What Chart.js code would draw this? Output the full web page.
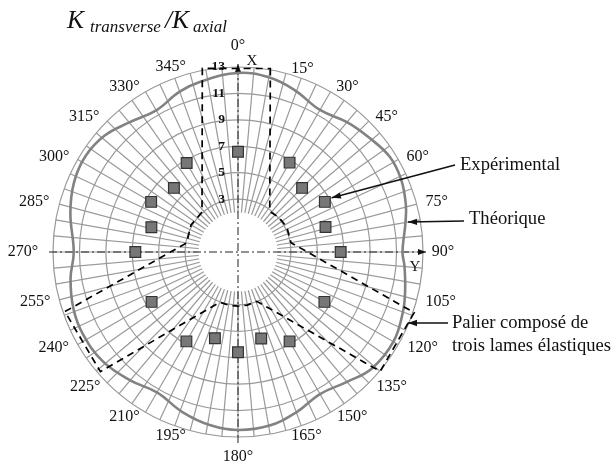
<!DOCTYPE html>
<html>
<head>
<meta charset="utf-8">
<style>html,body{margin:0;padding:0;background:#fff}canvas{display:block}</style>
<script src="https://cdn.jsdelivr.net/npm/chart.js@4/dist/chart.umd.min.js"></script>
</head>
<body>
<canvas id="c" width="615" height="466"></canvas>
<script>
const degreeLabels = [0,15,30,45,60,75,90,105,120,135,150,165,180,195,210,225,240,255,270,285,300,315,330,345];
const labelDx = [0,16.5,17,18,19.5,20,20,24,24.4,23,21.7,20.5,0,-19.5,-21,-22,-24,-24,-30,-25,-23.5,-23,-21,-19.5];
const labelDy = [-21,-5,-5,-4,-3,-2,0,2,3,4,5,5.5,20,5.5,5,4,3,2,0,-2,-3,-4,-5,-6.5];
const ratioTicks = [3,5,7,9,11,13];

const theoryAngles = [0,10,19,30,40,49,58,66,74,80,90,95,103,110,120,131,140,150,160,170,180,189,199,210,220,231,242,251,261,270,283,293,302,311,320,330,340,348];
const theoryValues = [12.55,12.43,12.0,11.41,11.83,12.17,12.56,12.51,12.21,11.87,11.45,11.65,11.98,12.28,12.58,12.43,11.83,11.41,11.91,12.36,12.47,12.28,11.83,11.27,11.68,12.16,12.28,12.17,11.83,11.43,12.02,12.48,12.63,12.40,11.8,11.38,11.91,12.21];

const expAngles = [0,30,45,60,74,90,120,150,165,180,195,210,240,270,286,300,315,330];
const expValues = [6.58,6.81,5.86,6.59,5.89,6.77,6.55,6.81,5.78,6.58,5.75,6.81,6.55,6.77,5.82,6.59,5.86,6.77];

const bearingAngles = [10,38,50,63,80,109,130,159,170,180,190,200,229,251,280,300,318,349];
const bearingValues = [13.1,2.9,3.05,3.15,3.07,13.1,13.05,3.0,3.08,3.1,3.08,3.05,12.8,12.85,2.95,3.1,3.07,13.15];

const holeValue = 2;
const GREY = '#999999';
const SERIF = '"Liberation Serif","Times New Roman",serif';

function sparse(angles, values){
  const a = new Array(360).fill(null);
  angles.forEach((d,i)=>{ a[d] = values[i]; });
  return a;
}
const labels = Array.from({length:360},(_,i)=> degreeLabels.includes(i) ? i+'°' : '');

function arrow(ctx,x1,y1,x2,y2,len,wid){
  const t = Math.atan2(y2-y1,x2-x1);
  ctx.beginPath();ctx.moveTo(x1,y1);ctx.lineTo(x2,y2);ctx.stroke();
  ctx.beginPath();ctx.moveTo(x2,y2);
  ctx.lineTo(x2-len*Math.cos(t)+wid*Math.sin(t),y2-len*Math.sin(t)-wid*Math.cos(t));
  ctx.lineTo(x2-len*Math.cos(t)-wid*Math.sin(t),y2-len*Math.sin(t)+wid*Math.cos(t));
  ctx.closePath();ctx.fill();
}

const overlay = {
  id:'overlay',
  beforeDatasetsDraw(chart){
    const s = chart.scales.r, ctx = chart.ctx;
    const cx = s.xCenter, cy = s.yCenter;
    ctx.save();
    ctx.fillStyle='#fff';
    ctx.beginPath();ctx.arc(cx,cy,s.getDistanceFromCenterForValue(holeValue),0,Math.PI*2);ctx.fill();
    ctx.strokeStyle='#222';ctx.fillStyle='#111';ctx.lineWidth=1;
    ctx.setLineDash([8,3,2,3]);
    const R = s.drawingArea;
    ctx.beginPath();ctx.moveTo(cx,cy-R);ctx.lineTo(cx,cy+R+7);ctx.stroke();
    ctx.beginPath();ctx.moveTo(cx-R-4,cy);ctx.lineTo(cx+R,cy);ctx.stroke();
    ctx.setLineDash([]);
    arrow(ctx,cx,cy-R+4,cx,cy-R-3,8,3);
    arrow(ctx,cx+R-4,cy,cx+R+3,cy,8,3);
    ctx.restore();
  },
  afterDraw(chart){
    const s = chart.scales.r, ctx = chart.ctx;
    const cx = s.xCenter, cy = s.yCenter;
    ctx.save();
    ctx.fillStyle='#111';ctx.strokeStyle='#111';
    // degree labels
    ctx.font='16px '+SERIF;ctx.textAlign='center';ctx.textBaseline='middle';
    degreeLabels.forEach((d,i)=>{
      const p = s.getPointPositionForValue(d,13);
      ctx.fillText(d+'°',p.x+labelDx[i],p.y+labelDy[i]);
    });
    // ring values
    ctx.font='bold 13.5px '+SERIF;ctx.textAlign='right';
    ratioTicks.forEach(v=>{
      ctx.fillText(String(v),cx-13,cy-s.getDistanceFromCenterForValue(v));
    });
    // axis letters
    ctx.font='15px '+SERIF;ctx.textAlign='center';
    ctx.fillText('X',cx+14,61);
    ctx.fillText('Y',cx+177,267);
    // title
    ctx.textAlign='left';ctx.textBaseline='alphabetic';
    ctx.font='italic 25.5px '+SERIF;
    ctx.fillText('K',67,28);
    ctx.fillText('/K',165,28);
    ctx.font='italic 17px '+SERIF;
    ctx.fillText('transverse',90,32);
    ctx.fillText('axial',193,32);
    // callouts
    ctx.font='18.6px '+SERIF;
    ctx.fillText('Expérimental',460,170);
    ctx.fillText('Théorique',469,224);
    ctx.fillText('Palier composé de',452,328);
    ctx.fillText('trois lames élastiques',452,351);
    ctx.lineWidth=1.6;
    const p = s.getPointPositionForValue(60,expValues[3]);
    arrow(ctx,455,165,p.x+7,p.y-4,9,3.2);
    arrow(ctx,464,221,408,222,9,3.2);
    arrow(ctx,448,323,408,323,9,3.2);
    ctx.restore();
  }
};

new Chart(document.getElementById('c'),{
  type:'radar',
  data:{
    labels,
    datasets:[
      {label:'Théorique',data:sparse(theoryAngles,theoryValues),borderColor:'#828282',borderWidth:2.6,tension:0.4,spanGaps:true,pointRadius:0,fill:false,order:3},
      {label:'Palier',data:sparse(bearingAngles,bearingValues),borderColor:'#000',borderWidth:1.7,borderDash:[7,5],tension:0,spanGaps:true,pointRadius:0,fill:false,order:2},
      {label:'Expérimental',data:sparse(expAngles,expValues),showLine:false,pointStyle:'rect',pointRadius:7.6,pointHoverRadius:7.6,pointBackgroundColor:'#777',pointBorderColor:'#333',pointBorderWidth:1.2,order:1}
    ]
  },
  options:{
    responsive:false,
    animation:false,
    events:[],
    layout:{padding:{left:52,right:191,top:67,bottom:28}},
    plugins:{legend:{display:false},tooltip:{enabled:false},title:{display:false}},
    scales:{r:{
      min:-1,max:13,
      grid:{circular:true,lineWidth:1.2,color:c=> c.tick && c.tick.value>=3 ? GREY : 'rgba(0,0,0,0)'},
      angleLines:{display:true,lineWidth:1.2,color:c=> c.index%5===0 ? GREY : 'rgba(0,0,0,0)'},
      border:{display:false},
      ticks:{display:false,stepSize:2},
      pointLabels:{display:false}
    }}
  },
  plugins:[overlay]
});
</script>
</body>
</html>
